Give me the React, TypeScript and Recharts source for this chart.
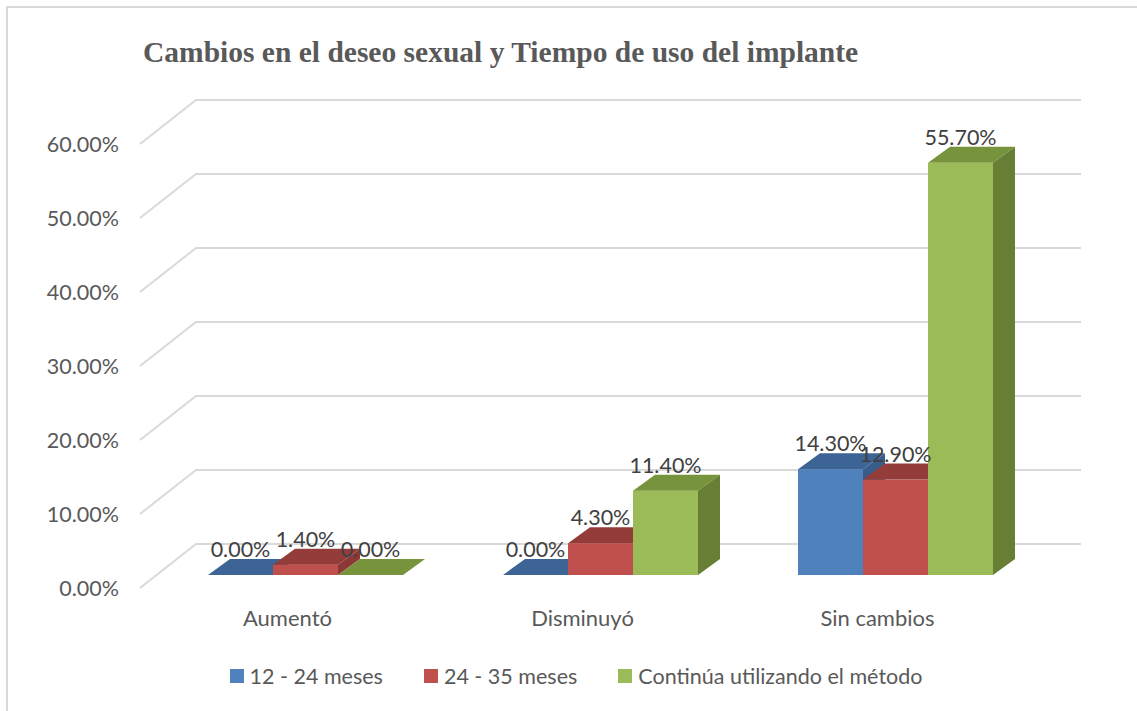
import React from 'react';
import { BarChart, Bar, XAxis, YAxis, CartesianGrid, LabelList } from 'recharts';

// Data
const categories = ['Aumentó', 'Disminuyó', 'Sin cambios'];
const meses12a24 = [0, 0, 14.3];
const meses24a35 = [1.4, 4.3, 12.9];
const continua = [0, 11.4, 55.7];
const yTicks = [0, 10, 20, 30, 40, 50, 60];

const seriesInfo = [
  { key: 'a', name: '12 - 24 meses', front: '#4f81bd', top: '#3c6494', side: '#385d8a' },
  { key: 'b', name: '24 - 35 meses', front: '#c0504d', top: '#943c3a', side: '#8c3836' },
  { key: 'c', name: 'Continúa utilizando el método', front: '#9bbb59', top: '#77933c', side: '#667f35' },
];

const data = categories.map((name, i) => ({
  name,
  a: meses12a24[i],
  b: meses24a35[i],
  c: continua[i],
}));

// 3D look
const FLOOR_DX = 56;
const FLOOR_DY = 44;
const SHIFT_X = 18;
const SHIFT_Y = -13;
const DEPTH_X = 22;
const DEPTH_Y = 16;
const GRID = '#d9d9d9';
const FONT = 'Lato, "Open Sans", sans-serif';
const FONT_SIZE = 21.5;

const makeShape = (top: string, side: string) => (props: any) => {
  const { x, y, width, height, fill } = props;
  const fx = x + SHIFT_X;
  const fy = y + SHIFT_Y;
  const h = Math.max(height, 0);
  return (
    <g>
      <rect x={fx} y={fy} width={width} height={h} fill={fill} />
      <polygon
        points={`${fx},${fy} ${fx + DEPTH_X},${fy - DEPTH_Y} ${fx + width + DEPTH_X},${fy - DEPTH_Y} ${fx + width},${fy}`}
        fill={top}
      />
      <polygon
        points={`${fx + width},${fy} ${fx + width + DEPTH_X},${fy - DEPTH_Y} ${fx + width + DEPTH_X},${fy + h - DEPTH_Y} ${fx + width},${fy + h}`}
        fill={side}
      />
    </g>
  );
};

const renderValue = (props: any) => {
  const { x, y, width, value } = props;
  return (
    <text
      x={x + SHIFT_X + width / 2}
      y={y + SHIFT_Y - 18}
      textAnchor="middle"
      fontFamily={FONT}
      fontSize={FONT_SIZE}
      fill="#404040"
    >
      {`${Number(value).toFixed(2)}%`}
    </text>
  );
};

const gridLine = (props: any) => {
  const { x1, y1, x2, key } = props;
  return (
    <path
      key={key}
      d={`M${x1},${y1} L${x1 + FLOOR_DX},${y1 - FLOOR_DY} L${x2 + FLOOR_DX},${y1 - FLOOR_DY}`}
      stroke={GRID}
      strokeWidth={2}
      fill="none"
    />
  );
};

export default function App() {
  return (
    <div style={{ position: 'absolute', left: 0, top: 0, width: 1137, height: 711, overflow: 'hidden', background: '#fff' }}>
      <div
        style={{
          position: 'absolute',
          left: 6,
          top: 6,
          width: 1300,
          height: 900,
          border: `2px solid ${GRID}`,
        }}
      />
      <div
        style={{
          position: 'absolute',
          left: 143,
          top: 36,
          fontFamily: '"Liberation Serif", "Times New Roman", serif',
          fontWeight: 'bold',
          fontSize: 29.5,
          color: '#595959',
          whiteSpace: 'nowrap',
        }}
      >
        Cambios en el deseo sexual y Tiempo de uso del implante
      </div>
      <div style={{ position: 'absolute', left: 0, top: 0 }}>
        <BarChart
          width={1137}
          height={711}
          data={data}
          margin={{ top: 144, right: 112, bottom: 93, left: 20 }}
          barSize={65}
          barGap={0}
        >
          <CartesianGrid vertical={false} horizontal={gridLine} />
          <XAxis
            dataKey="name"
            height={30}
            axisLine={false}
            tickLine={false}
            tickSize={0}
            tickMargin={22}
            tick={{ fontFamily: FONT, fontSize: 22, fill: '#595959' }}
          />
          <YAxis
            width={120}
            domain={[0, 60]}
            ticks={yTicks}
            axisLine={false}
            tickLine={false}
            tickSize={0}
            tickMargin={21}
            tickFormatter={(v: number) => `${v.toFixed(2)}%`}
            tick={{ fontFamily: FONT, fontSize: FONT_SIZE, fill: '#595959' }}
          />
          {seriesInfo.map((s) => (
            <Bar
              key={s.key}
              dataKey={s.key}
              name={s.name}
              fill={s.front}
              shape={makeShape(s.top, s.side)}
              isAnimationActive={false}
            >
              <LabelList dataKey={s.key} content={renderValue} />
            </Bar>
          ))}
        </BarChart>
      </div>
      <div
        style={{
          position: 'absolute',
          left: 0,
          top: 663,
          width: 1152,
          display: 'flex',
          justifyContent: 'center',
          gap: 41,
          fontFamily: FONT,
          fontSize: FONT_SIZE,
          color: '#595959',
        }}
      >
        {seriesInfo.map((s) => (
          <div key={s.key} style={{ display: 'flex', alignItems: 'center' }}>
            <span style={{ display: 'inline-block', width: 14, height: 14, background: s.front, marginRight: 6 }} />
            <span>{s.name}</span>
          </div>
        ))}
      </div>
    </div>
  );
}
